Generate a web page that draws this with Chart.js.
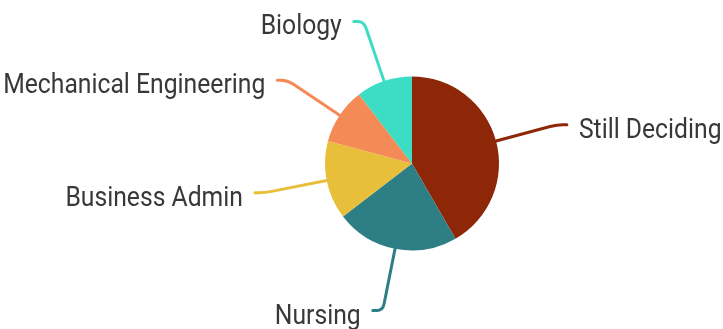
<!DOCTYPE html>
<html>
<head>
<meta charset="utf-8">
<script src="https://cdn.jsdelivr.net/npm/chart.js@4.4.1/dist/chart.umd.min.js"></script>
<style>
  html, body { margin: 0; padding: 0; background: #fff; }
  #wrap { width: 723px; height: 329px; }
</style>
</head>
<body>
<div id="wrap"><canvas id="majors"></canvas></div>
<script>
const majors = ['Still Deciding', 'Nursing', 'Business Admin', 'Mechanical Engineering', 'Biology'];
const students = [40, 22, 14, 10, 10];
const sliceColors = ['#8e2707', '#2e7e85', '#e8bf3b', '#f48a55', '#3ddcc4'];

// leader line + label for every slice
const calloutPlugin = {
    id: 'callouts',
    afterDatasetsDraw(chart) {
        const ctx = chart.ctx;
        const meta = chart.getDatasetMeta(0);
        const ext = 63, hook = 10, gap = 12;
        ctx.save();
        meta.data.forEach((arc, i) => {
            const { x, y, startAngle, endAngle, outerRadius } = arc.getProps(['x', 'y', 'startAngle', 'endAngle', 'outerRadius'], true);
            const mid = (startAngle + endAngle) / 2;
            const cos = Math.cos(mid), sin = Math.sin(mid);
            const side = cos >= 0 ? 1 : -1;
            const sx = x + outerRadius * cos, sy = y + outerRadius * sin;
            const cx = x + (outerRadius + ext) * cos, cy = y + (outerRadius + ext) * sin;
            const bx = x + (outerRadius + ext - 7) * cos, by = y + (outerRadius + ext - 7) * sin;
            const ex = cx + side * hook;

            ctx.strokeStyle = sliceColors[i];
            ctx.lineWidth = 3;
            ctx.lineCap = 'round';
            ctx.lineJoin = 'round';
            ctx.beginPath();
            ctx.moveTo(sx, sy);
            ctx.lineTo(bx, by);
            ctx.quadraticCurveTo(cx, cy, cx + side * 6, cy);
            ctx.lineTo(ex, cy);
            ctx.stroke();

            // condensed look: squeeze Roboto horizontally
            ctx.save();
            ctx.translate(ex + side * gap, cy + 13);
            ctx.scale(0.915, 1);
            ctx.fillStyle = '#383838';
            ctx.font = '27px Roboto';
            ctx.textAlign = side > 0 ? 'left' : 'right';
            ctx.textBaseline = 'alphabetic';
            ctx.fillText(majors[i], 0, 0);
            ctx.restore();
        });
        ctx.restore();
    }
};

new Chart(document.getElementById('majors').getContext('2d'), {
    type: 'pie',
    data: {
        labels: majors,
        datasets: [{
            data: students,
            backgroundColor: sliceColors,
            borderWidth: 0,
            hoverOffset: 0
        }]
    },
    options: {
        responsive: true,
        maintainAspectRatio: false,
        animation: false,
        layout: {
            padding: { left: 200, right: 99, top: 76.5, bottom: 78.5 }
        },
        plugins: {
            legend: { display: false },
            tooltip: { enabled: false }
        }
    },
    plugins: [calloutPlugin]
});
</script>
</body>
</html>
